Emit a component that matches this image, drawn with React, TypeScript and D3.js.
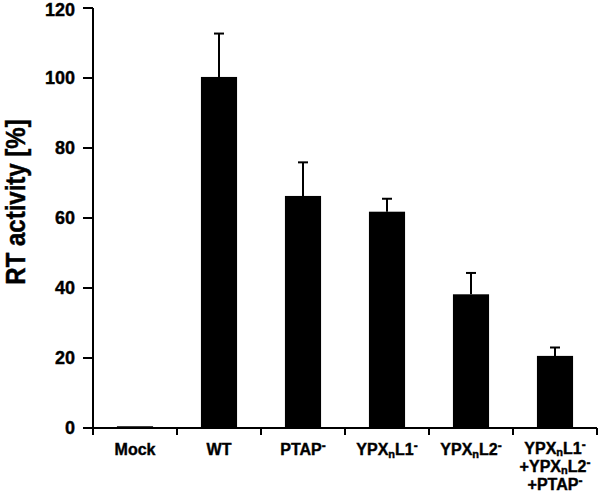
import React from "react";
import * as d3 from "d3";

const categories = ["Mock", "WT", "PTAP", "YPXnL1", "YPXnL2", "Combo"];
const values = [0.5, 100.3, 66.3, 61.8, 38.2, 20.6];
const errors = [0, 12.4, 9.6, 3.7, 6.1, 2.4];
const yTicks = [0, 20, 40, 60, 80, 100, 120];

const W = 600;
const H = 498;
const x0 = 93, x1 = 597, yTop = 8, yBot = 428;

function Sup() {
  return (
    <tspan fontSize={12} dy={-5}>
      -
    </tspan>
  );
}

function Label({ cat }: { cat: string }) {
  if (cat === "PTAP")
    return (
      <>
        <tspan>PTAP</tspan>
        <Sup />
      </>
    );
  if (cat === "YPXnL1" || cat === "YPXnL2")
    return (
      <>
        <tspan>YPX</tspan>
        <tspan fontSize={11} dy={3}>n</tspan>
        <tspan dy={-3}>{cat === "YPXnL1" ? "L1" : "L2"}</tspan>
        <Sup />
      </>
    );
  return <tspan>{cat}</tspan>;
}

export default function App() {
  const x = d3.scaleBand<string>().domain(categories).range([x0, x1]).padding(0);
  const y = d3.scaleLinear().domain([0, 120]).range([yBot, yTop]);
  const bw = x.bandwidth() * 0.43;
  const font = "'Liberation Sans', Arial, sans-serif";
  const boundaries = [...categories.map((c) => x(c)!), x1];
  const fs = 16;
  const textStroke = { stroke: "#000", strokeWidth: 0.4 } as any;

  return (
    <svg
      width={W}
      height={H}
      style={{ position: "absolute", left: 0, top: 0, background: "#fff" }}
      fontFamily={font}
      fontWeight="bold"
    >
      {/* bars */}
      {categories.map((c, i) => {
        const cx = x(c)! + x.bandwidth() / 2;
        return (
          <g key={c}>
            <rect
              x={cx - bw / 2}
              y={y(values[i])}
              width={bw}
              height={yBot - y(values[i])}
              fill="#000"
            />
            {errors[i] > 0 && (
              <g stroke="#000" strokeWidth={2}>
                <line x1={cx} x2={cx} y1={y(values[i])} y2={y(values[i] + errors[i])} />
                <line x1={cx - 5} x2={cx + 5} y1={y(values[i] + errors[i])} y2={y(values[i] + errors[i])} />
              </g>
            )}
          </g>
        );
      })}
      {/* y axis */}
      <line x1={x0} x2={x0} y1={yTop} y2={yBot} stroke="#000" strokeWidth={2} />
      {yTicks.map((t) => (
        <g key={t}>
          <line x1={x0 - 10} x2={x0} y1={y(t)} y2={y(t)} stroke="#000" strokeWidth={2} />
          <text x={x0 - 18} y={y(t)} dy={t === 120 ? "0.42em" : "0.34em"} textAnchor="end" fontSize={18} style={textStroke}>
            {t}
          </text>
        </g>
      ))}
      {/* x axis */}
      <line x1={x0 - 1} x2={x1} y1={yBot} y2={yBot} stroke="#000" strokeWidth={2} />
      {boundaries.map((b, i) => (
        <line key={i} x1={b} x2={b} y1={yBot} y2={yBot + 7} stroke="#000" strokeWidth={2} />
      ))}
      {categories.map((c) => {
        const cx = x(c)! + x.bandwidth() / 2;
        if (c === "Combo") {
          return (
            <g key={c} fontSize={fs} style={textStroke}>
              <text x={cx} y={454} textAnchor="middle">
                <tspan>YPX</tspan>
                <tspan fontSize={11} dy={2}>n</tspan>
                <tspan dy={-2}>L1</tspan>
                <Sup />
              </text>
              <text x={cx} y={472} textAnchor="middle">
                <tspan>+YPX</tspan>
                <tspan fontSize={11} dy={2}>n</tspan>
                <tspan dy={-2}>L2</tspan>
                <Sup />
              </text>
              <text x={cx} y={490} textAnchor="middle">
                <tspan>+PTAP</tspan>
                <Sup />
              </text>
            </g>
          );
        }
        return (
          <text key={c} x={cx} y={455} textAnchor="middle" fontSize={fs} style={textStroke}>
            <Label cat={c} />
          </text>
        );
      })}
      {/* y label */}
      <text
        transform={`translate(25, 202) rotate(-90) scale(1, 1.15)`}
        textAnchor="middle"
        fontSize={24}
        style={textStroke}
      >
        RT activity [%]
      </text>
    </svg>
  );
}
